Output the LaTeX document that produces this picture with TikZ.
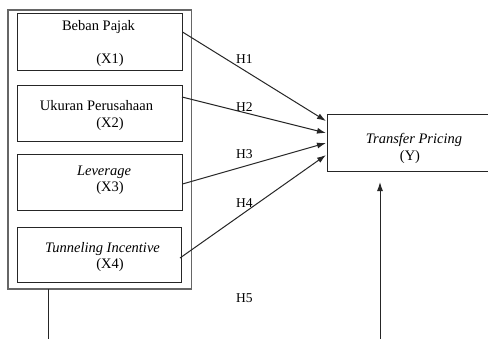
\documentclass[tikz,border=0pt]{standalone}
\usepackage{fontspec}
\setmainfont{Liberation Serif}
\usetikzlibrary{arrows.meta}
\begin{document}
\begin{tikzpicture}[x=1pt,y=-1pt,
  box/.style={draw=black!85,line width=1pt},
  outerbox/.style={draw=black!60,line width=1.1pt},
  txt/.style={anchor=base,inner sep=0pt,font=\fontsize{14.5}{17}\selectfont},
  hyp/.style={anchor=base west,inner sep=0pt,font=\fontsize{13.5}{16}\selectfont},
  arr/.style={draw=black!85,line width=1pt,-{Latex[length=9pt,width=6pt]}},
  ln/.style={draw=black!85,line width=1pt}]
\clip (0,0) rectangle (488,338);
\fill[white] (0,0) rectangle (488,338);
% outer box
\draw[outerbox] (8,10) rectangle (191.5,289);
% inner boxes
\node[box,minimum width=165pt,minimum height=57pt,inner sep=0pt] (b1) at (99.5,42) {};
\node[box,minimum width=165pt,minimum height=56pt,inner sep=0pt] (b2) at (99.5,113) {};
\node[box,minimum width=165pt,minimum height=56pt,inner sep=0pt] (b3) at (99.5,182) {};
\node[box,minimum width=164pt,minimum height=55pt,inner sep=0pt] (b4) at (99,254.5) {};
\node[box,minimum width=170pt,minimum height=57pt,inner sep=0pt] (y) at (412,142.5) {};
% texts
\node[txt] (t1a) at (98.5,30) {Beban Pajak};
\node[txt] (t1b) at (110,63) {(X1)};
\node[txt] (t2a) at (96.5,110) {Ukuran Perusahaan};
\node[txt] (t2b) at (110,127) {(X2)};
\node[txt] (t3a) at (104,175) {\itshape Leverage};
\node[txt] (t3b) at (110,191) {(X3)};
\node[txt] (t4a) at (102.5,252) {\itshape Tunneling Incentive};
\node[txt] (t4b) at (110,268) {(X4)};
\node[txt] (tya) at (414,143) {\itshape Transfer Pricing};
\node[txt] (tyb) at (410,160) {(Y)};
% hypothesis labels
\node[hyp] (h1) at (236,63) {H1};
\node[hyp] (h2) at (236,111) {H2};
\node[hyp] (h3) at (236,158) {H3};
\node[hyp] (h4) at (236,207) {H4};
\node[hyp] (h5) at (236,302) {H5};
% connectors
\coordinate (s1) at (182.5,32);
\coordinate (s2) at (182,97);
\coordinate (s3) at (182.5,184);
\coordinate (s4) at (180,258);
\coordinate (e1) at (326,121);
\coordinate (e2) at (326,133);
\coordinate (e3) at (326,143);
\coordinate (e4) at (326,155);
\draw[arr] (s1) -- (e1);
\draw[arr] (s2) -- (e2);
\draw[arr] (s3) -- (e3);
\draw[arr] (s4) -- (e4);
\coordinate (lb) at (48,289);
\coordinate (lbend) at (48,340);
\draw[ln] (lb) -- (lbend);
\coordinate (ub) at (380,340);
\coordinate (ut) at (380,182);
\draw[arr] (ub) -- (ut);
\end{tikzpicture}
\end{document}
